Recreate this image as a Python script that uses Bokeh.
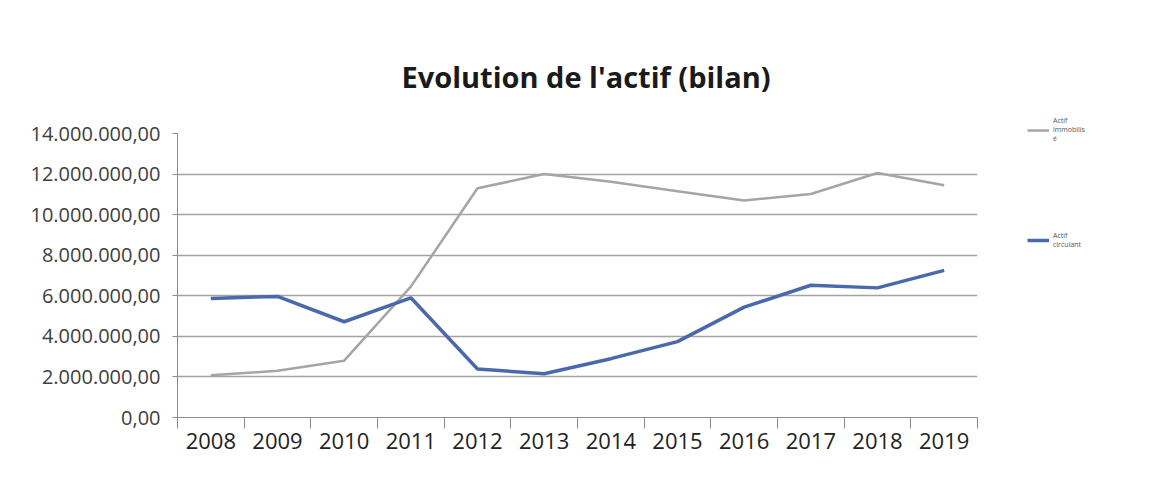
from bokeh.plotting import figure
from bokeh.models import FixedTicker, Legend, LegendItem, Range1d
from bokeh.embed import file_html
from bokeh.resources import INLINE

years = ["2008", "2009", "2010", "2011", "2012", "2013", "2014", "2015", "2016", "2017", "2018", "2019"]
actif_immobilise = [2080000, 2300000, 2800000, 6450000, 11300000, 12000000, 11620000, 11150000, 10700000, 11020000, 12050000, 11450000]
actif_circulant = [5870000, 5970000, 4720000, 5900000, 2390000, 2160000, 2900000, 3740000, 5440000, 6520000, 6390000, 7250000]
y_ticks = [0, 2000000, 4000000, 6000000, 8000000, 10000000, 12000000, 14000000]
series_names = ["Actif\nimmobilis\né", "Actif\ncirculant"]

def fmt(v):
    s = f"{v:,.2f}"
    return s.replace(",", "X").replace(".", ",").replace("X", ".")

xs = [i + 0.5 for i in range(len(years))]

p = figure(frame_width=800, frame_height=284, output_backend="svg", toolbar_location=None,
           x_range=Range1d(0, len(years)), y_range=Range1d(0, 14000000),
           min_border_left=177, min_border_right=165, min_border_top=133, min_border_bottom=56)
p.background_fill_color = "white"
p.border_fill_color = "white"
p.outline_line_color = None

p.title.text = "Evolution de l'actif (bilan)"
p.title.align = "left"
p.title.offset = 224
p.title.text_font = "Open Sans"
p.title.text_font_size = "29px"
p.title.text_font_style = "bold"
p.title.text_color = "#1a1a1a"
p.title.standoff = 75

p.xgrid.visible = False
p.ygrid.grid_line_color = "#A3A3A3"
p.ygrid.grid_line_width = 1.5

p.yaxis.ticker = FixedTicker(ticks=y_ticks)
p.yaxis.major_label_overrides = {t: fmt(t) for t in y_ticks}
p.yaxis.minor_tick_line_color = None
p.yaxis.major_tick_out = 5
p.yaxis.major_tick_in = 0
p.yaxis.major_label_standoff = 12
p.yaxis.major_label_text_font = "Open Sans"
p.yaxis.major_label_text_font_size = "20px"
p.yaxis.major_label_text_color = "#404040"
p.yaxis.axis_line_color = "#8C8C8C"
p.yaxis.major_tick_line_color = "#8C8C8C"

p.xaxis.ticker = FixedTicker(ticks=xs, minor_ticks=list(range(len(years) + 1)))
p.xaxis.major_label_overrides = {x: y for x, y in zip(xs, years)}
p.xaxis.major_tick_out = 0
p.xaxis.major_tick_in = 0
p.xaxis.minor_tick_out = 11
p.xaxis.minor_tick_in = 0
p.xaxis.minor_tick_line_color = "#8C8C8C"
p.xaxis.axis_line_color = "#8C8C8C"
p.xaxis.major_label_standoff = 4
p.xaxis.major_label_text_font = "Open Sans"
p.xaxis.major_label_text_font_size = "22px"
p.xaxis.major_label_text_color = "#222222"

r1 = p.line(xs, actif_immobilise, line_color="#A5A5A5", line_width=2.5)
r2 = p.line(xs, actif_circulant, line_color="#4A69AD", line_width=3.5)

legend = Legend(items=[LegendItem(label=series_names[0], renderers=[r1]),
                       LegendItem(label=series_names[1], renderers=[r2])],
                location=(50, 168), spacing=88, glyph_width=22, glyph_height=10,
                label_text_font="Open Sans", label_text_font_size="7px",
                label_text_color="#555555", border_line_color=None,
                background_fill_alpha=0, padding=0, margin=0, label_standoff=4)
p.add_layout(legend, "right")

open("out.html", "w").write(file_html(p, INLINE))
